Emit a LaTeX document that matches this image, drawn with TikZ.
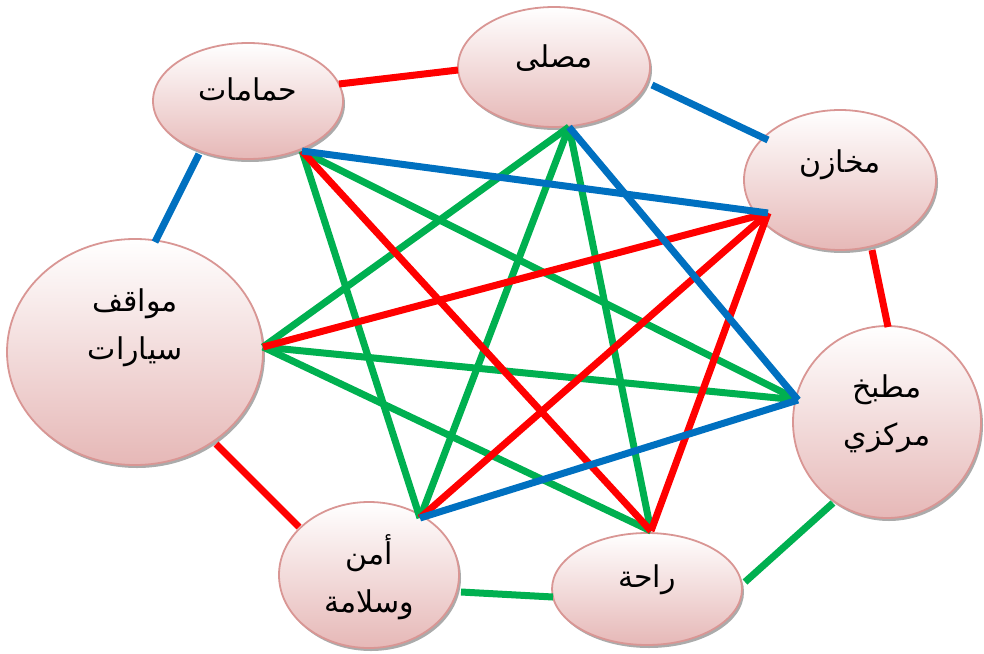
\documentclass[tikz,border=0pt]{standalone}
\usepackage{fontspec}
\newfontfamily\arabicfont[Script=Arabic]{DejaVu Sans}
\TeXXeTstate=1
\usetikzlibrary{shapes.geometric,shadows}
\definecolor{lred}{RGB}{255,0,0}
\definecolor{lblue}{RGB}{0,112,192}
\definecolor{lgreen}{RGB}{0,176,80}
\definecolor{elborder}{RGB}{217,150,148}
\definecolor{elbottom}{RGB}{230,184,183}
\begin{document}
\begin{tikzpicture}[x=1pt,y=-1pt,
  ell/.style={ellipse, draw=elborder, line width=1.8pt, top color=white,
    bottom color=elbottom, inner sep=0pt,
    drop shadow={shadow xshift=2pt,shadow yshift=-3pt,fill=black!55,opacity=0.6}},
  lbl/.style={font=\arabicfont\fontsize{30}{48}\selectfont, align=center, inner sep=0pt},
  link/.style={line width=7pt}]
\useasboundingbox (0,0) rectangle (984,653);
% ellipses
\node[ell, minimum width=190pt, minimum height=116pt] (hm) at (248,101) {};
\node[ell, minimum width=192pt, minimum height=120pt] (ms) at (554,67) {};
\node[ell, minimum width=192pt, minimum height=140pt] (mk) at (840,180) {};
\node[ell, minimum width=256pt, minimum height=226pt] (mw) at (135,352) {};
\node[ell, minimum width=188pt, minimum height=192pt] (mt) at (887,422) {};
\node[ell, minimum width=180pt, minimum height=146pt] (am) at (369,575) {};
\node[ell, minimum width=190pt, minimum height=112pt] (rh) at (647,589) {};
% texts
\node[lbl] (t1) at ([yshift=12pt]hm.center) {\beginR حمامات\endR};
\node[lbl] (t2) at ([yshift=9pt]ms.center) {\beginR مصلى\endR};
\node[lbl] (t3) at ([yshift=15pt]mk.center) {\beginR مخازن\endR};
\node[lbl] (t4) at ([yshift=24pt]mw.center) {\beginR مواقف\endR\\\beginR سيارات\endR};
\node[lbl] (t5) at ([yshift=8pt]mt.center) {\beginR مطبخ\endR\\\beginR مركزي\endR};
\node[lbl] (t6) at ([yshift=-2pt]am.center) {\beginR أمن\endR\\\beginR وسلامة\endR};
\node[lbl] (t7) at ([yshift=9pt]rh.center) {\beginR راحة\endR};
% star vertices
\coordinate (s1) at ([shift={(54,50)}]hm.center);
\coordinate (s2) at ([shift={(15,60)}]ms.center);
\coordinate (s3) at ([shift={(-72,33)}]mk.center);
\coordinate (s4) at ([shift={(-89,-22)}]mt.center);
\coordinate (s5) at ([shift={(4,-58)}]rh.center);
\coordinate (s6) at ([shift={(51,-57)}]am.center);
\coordinate (s7) at ([shift={(128,-5)}]mw.center);
% outer ring
\draw[link, lred]   ([shift={(91,-17)}]hm.center) -- ([shift={(-96,3)}]ms.center);
\draw[link, lblue]  ([shift={(98,18)}]ms.center) -- ([shift={(-72,-40)}]mk.center);
\draw[link, lred]   ([shift={(32,70)}]mk.center) -- ([shift={(1,-95)}]mt.center);
\draw[link, lgreen] ([shift={(-54,81)}]mt.center) -- ([shift={(98,-7)}]rh.center);
\draw[link, lgreen] ([shift={(-94,8)}]rh.center) -- ([shift={(92,17)}]am.center);
\draw[link, lred]   ([shift={(-70,-48)}]am.center) -- ([shift={(81,92)}]mw.center);
\draw[link, lblue]  ([shift={(20,-110)}]mw.center) -- ([shift={(-49,53)}]hm.center);
% star: green
\draw[link, lgreen] (s1) -- (s4);
\draw[link, lgreen] (s1) -- (s6);
\draw[link, lgreen] (s2) -- (s7);
\draw[link, lgreen] (s2) -- (s6);
\draw[link, lgreen] (s2) -- (s5);
\draw[link, lgreen] (s7) -- (s4);
\draw[link, lgreen] (s7) -- (s5);
% star: red
\draw[link, lred] (s1) -- (s5);
\draw[link, lred] (s3) -- (s7);
\draw[link, lred] (s3) -- (s6);
\draw[link, lred] (s3) -- (s5);
% star: blue
\draw[link, lblue] (s1) -- (s3);
\draw[link, lblue] (s2) -- (s4);
\draw[link, lblue] (s6) -- (s4);
\end{tikzpicture}
\end{document}
